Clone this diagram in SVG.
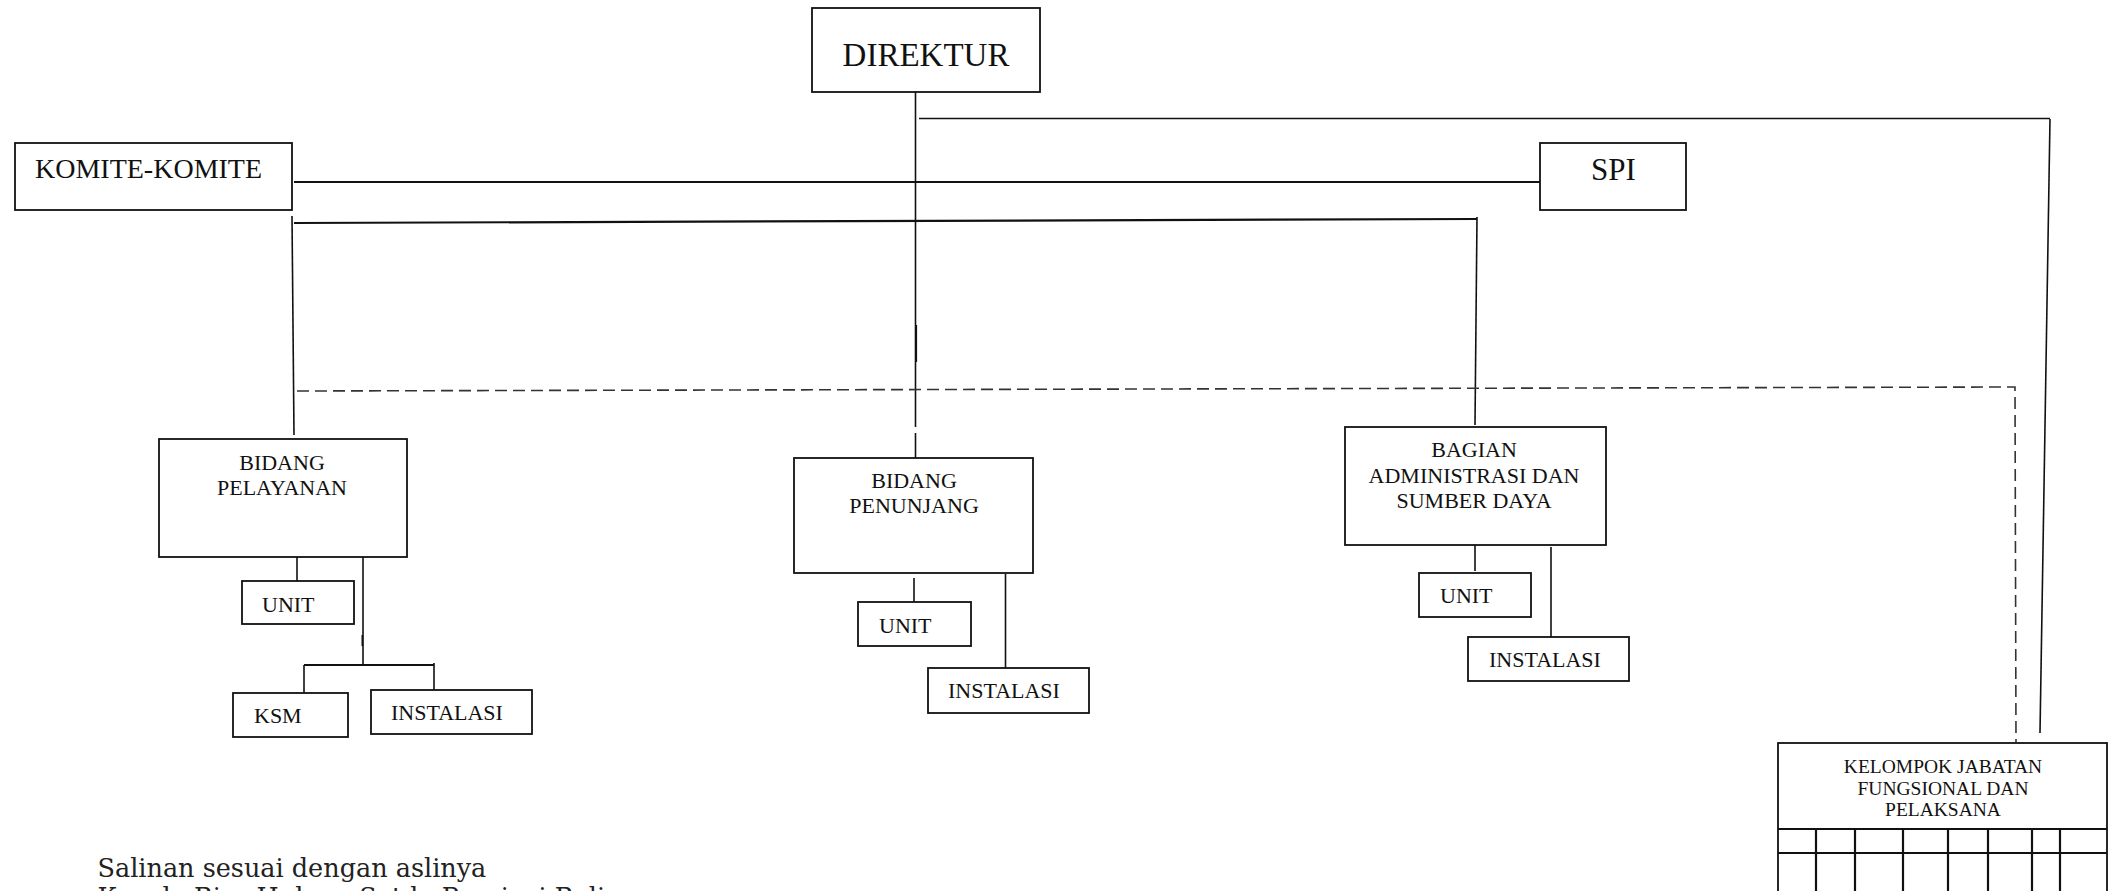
<svg xmlns="http://www.w3.org/2000/svg" width="2109" height="891" viewBox="0 0 2109 891">
<style>
.box{fill:#fff;stroke:#111;stroke-width:1.8}
.ln{stroke:#111;stroke-width:1.6;fill:none}
.th{stroke:#111;stroke-width:2.2;fill:none}
.ds{stroke:#333;stroke-width:1.6;fill:none;stroke-dasharray:12 6}
.t{font-family:"Liberation Serif","Times New Roman",serif;fill:#111;font-size:22px}
.c{text-anchor:middle}
.note{font-family:"DejaVu Serif","Liberation Serif",serif;fill:#222;font-size:25.5px}
</style>
<rect width="2109" height="891" fill="#fff"/>
<g id="connectors">
<line class="ln" x1="915.5" y1="92" x2="915.5" y2="427"/>
<line class="ln" x1="915.5" y1="433" x2="915.5" y2="458"/>
<line class="ln" x1="916.3" y1="325" x2="916.3" y2="362"/>
<line class="ln" x1="919" y1="118.5" x2="2050" y2="118.5"/>
<line class="ln" x1="2050" y1="119" x2="2040" y2="733"/>
<line class="th" x1="294" y1="182" x2="1540" y2="182"/>
<line class="th" x1="294" y1="223" x2="1477" y2="219"/>
<line class="ln" x1="292" y1="216" x2="294" y2="435"/>
<line class="ln" x1="1477" y1="217" x2="1475" y2="425"/>
<polyline class="ds" points="297,391 2015,387 2016,742"/>
<line class="ln" x1="297" y1="553" x2="297" y2="581"/>
<line class="ln" x1="363" y1="557" x2="363" y2="665"/>
<line class="ln" x1="362.3" y1="635" x2="362.3" y2="646"/>
<line class="th" x1="304" y1="665" x2="434" y2="665"/>
<line class="ln" x1="304" y1="665" x2="304" y2="693"/>
<line class="ln" x1="434" y1="663" x2="434" y2="693"/>
<line class="ln" x1="914" y1="578" x2="914" y2="605"/>
<line class="ln" x1="1005.5" y1="574" x2="1005.5" y2="668"/>
<line class="ln" x1="1475" y1="542" x2="1475" y2="571"/>
<line class="ln" x1="1551" y1="547" x2="1551" y2="638"/>
</g>
<g id="direktur">
<rect class="box" x="812" y="8" width="228" height="84"/>
<text class="t c" x="926" y="66" style="font-size:33px">DIREKTUR</text>
</g>
<g id="komite">
<rect class="box" x="15" y="143" width="277" height="67"/>
<text class="t" x="35" y="178" style="font-size:28px">KOMITE-KOMITE</text>
</g>
<g id="spi">
<rect class="box" x="1540" y="143" width="146" height="67"/>
<text class="t" x="1591" y="180" style="font-size:31px">SPI</text>
</g>
<g id="bidang-pelayanan">
<rect class="box" x="159" y="439" width="248" height="118"/>
<text class="t c" x="282" y="470">BIDANG</text>
<text class="t c" x="282" y="495">PELAYANAN</text>
</g>
<g id="unit-pelayanan">
<rect class="box" x="242" y="581" width="112" height="43"/>
<text class="t" x="262" y="612">UNIT</text>
</g>
<g id="ksm">
<rect class="box" x="233" y="693" width="115" height="44"/>
<text class="t" x="254" y="723">KSM</text>
</g>
<g id="instalasi-pelayanan">
<rect class="box" x="371" y="690" width="161" height="44"/>
<text class="t" x="391" y="720">INSTALASI</text>
</g>
<g id="bidang-penunjang">
<rect class="box" x="794" y="458" width="239" height="115"/>
<text class="t c" x="914" y="488">BIDANG</text>
<text class="t c" x="914" y="513">PENUNJANG</text>
</g>
<g id="unit-penunjang">
<rect class="box" x="858" y="602" width="113" height="44"/>
<text class="t" x="879" y="633">UNIT</text>
</g>
<g id="instalasi-penunjang">
<rect class="box" x="928" y="668" width="161" height="45"/>
<text class="t" x="948" y="698">INSTALASI</text>
</g>
<g id="bagian-administrasi">
<rect class="box" x="1345" y="427" width="261" height="118"/>
<text class="t c" x="1474" y="457">BAGIAN</text>
<text class="t c" x="1474" y="483">ADMINISTRASI DAN</text>
<text class="t c" x="1474" y="508">SUMBER DAYA</text>
</g>
<g id="unit-bagian">
<rect class="box" x="1419" y="573" width="112" height="44"/>
<text class="t" x="1440" y="603">UNIT</text>
</g>
<g id="instalasi-bagian">
<rect class="box" x="1468" y="637" width="161" height="44"/>
<text class="t" x="1489" y="667">INSTALASI</text>
</g>
<g id="kelompok-jabatan">
<rect class="box" x="1778" y="743" width="329" height="160"/>
<text class="t c" x="1943" y="773" style="font-size:19.5px">KELOMPOK JABATAN</text>
<text class="t c" x="1943" y="795" style="font-size:19.5px">FUNGSIONAL DAN</text>
<text class="t c" x="1943" y="816" style="font-size:19.5px">PELAKSANA</text>
<line class="th" x1="1778" y1="829" x2="2107" y2="829"/>
<line class="th" x1="1778" y1="853" x2="2107" y2="853"/>
<line class="th" x1="1816" y1="829" x2="1816" y2="891"/>
<line class="th" x1="1855" y1="829" x2="1855" y2="891"/>
<line class="th" x1="1903" y1="829" x2="1903" y2="891"/>
<line class="th" x1="1948" y1="829" x2="1948" y2="891"/>
<line class="th" x1="1988" y1="829" x2="1988" y2="891"/>
<line class="th" x1="2032" y1="829" x2="2032" y2="891"/>
<line class="th" x1="2060" y1="829" x2="2060" y2="891"/>
</g>
<g id="note">
<text class="note" x="97.5" y="877">Salinan sesuai dengan aslinya</text>
<text class="note" x="97.5" y="906">Kepala Biro Hukum Setda Provinsi Bali</text>
</g>
</svg>
